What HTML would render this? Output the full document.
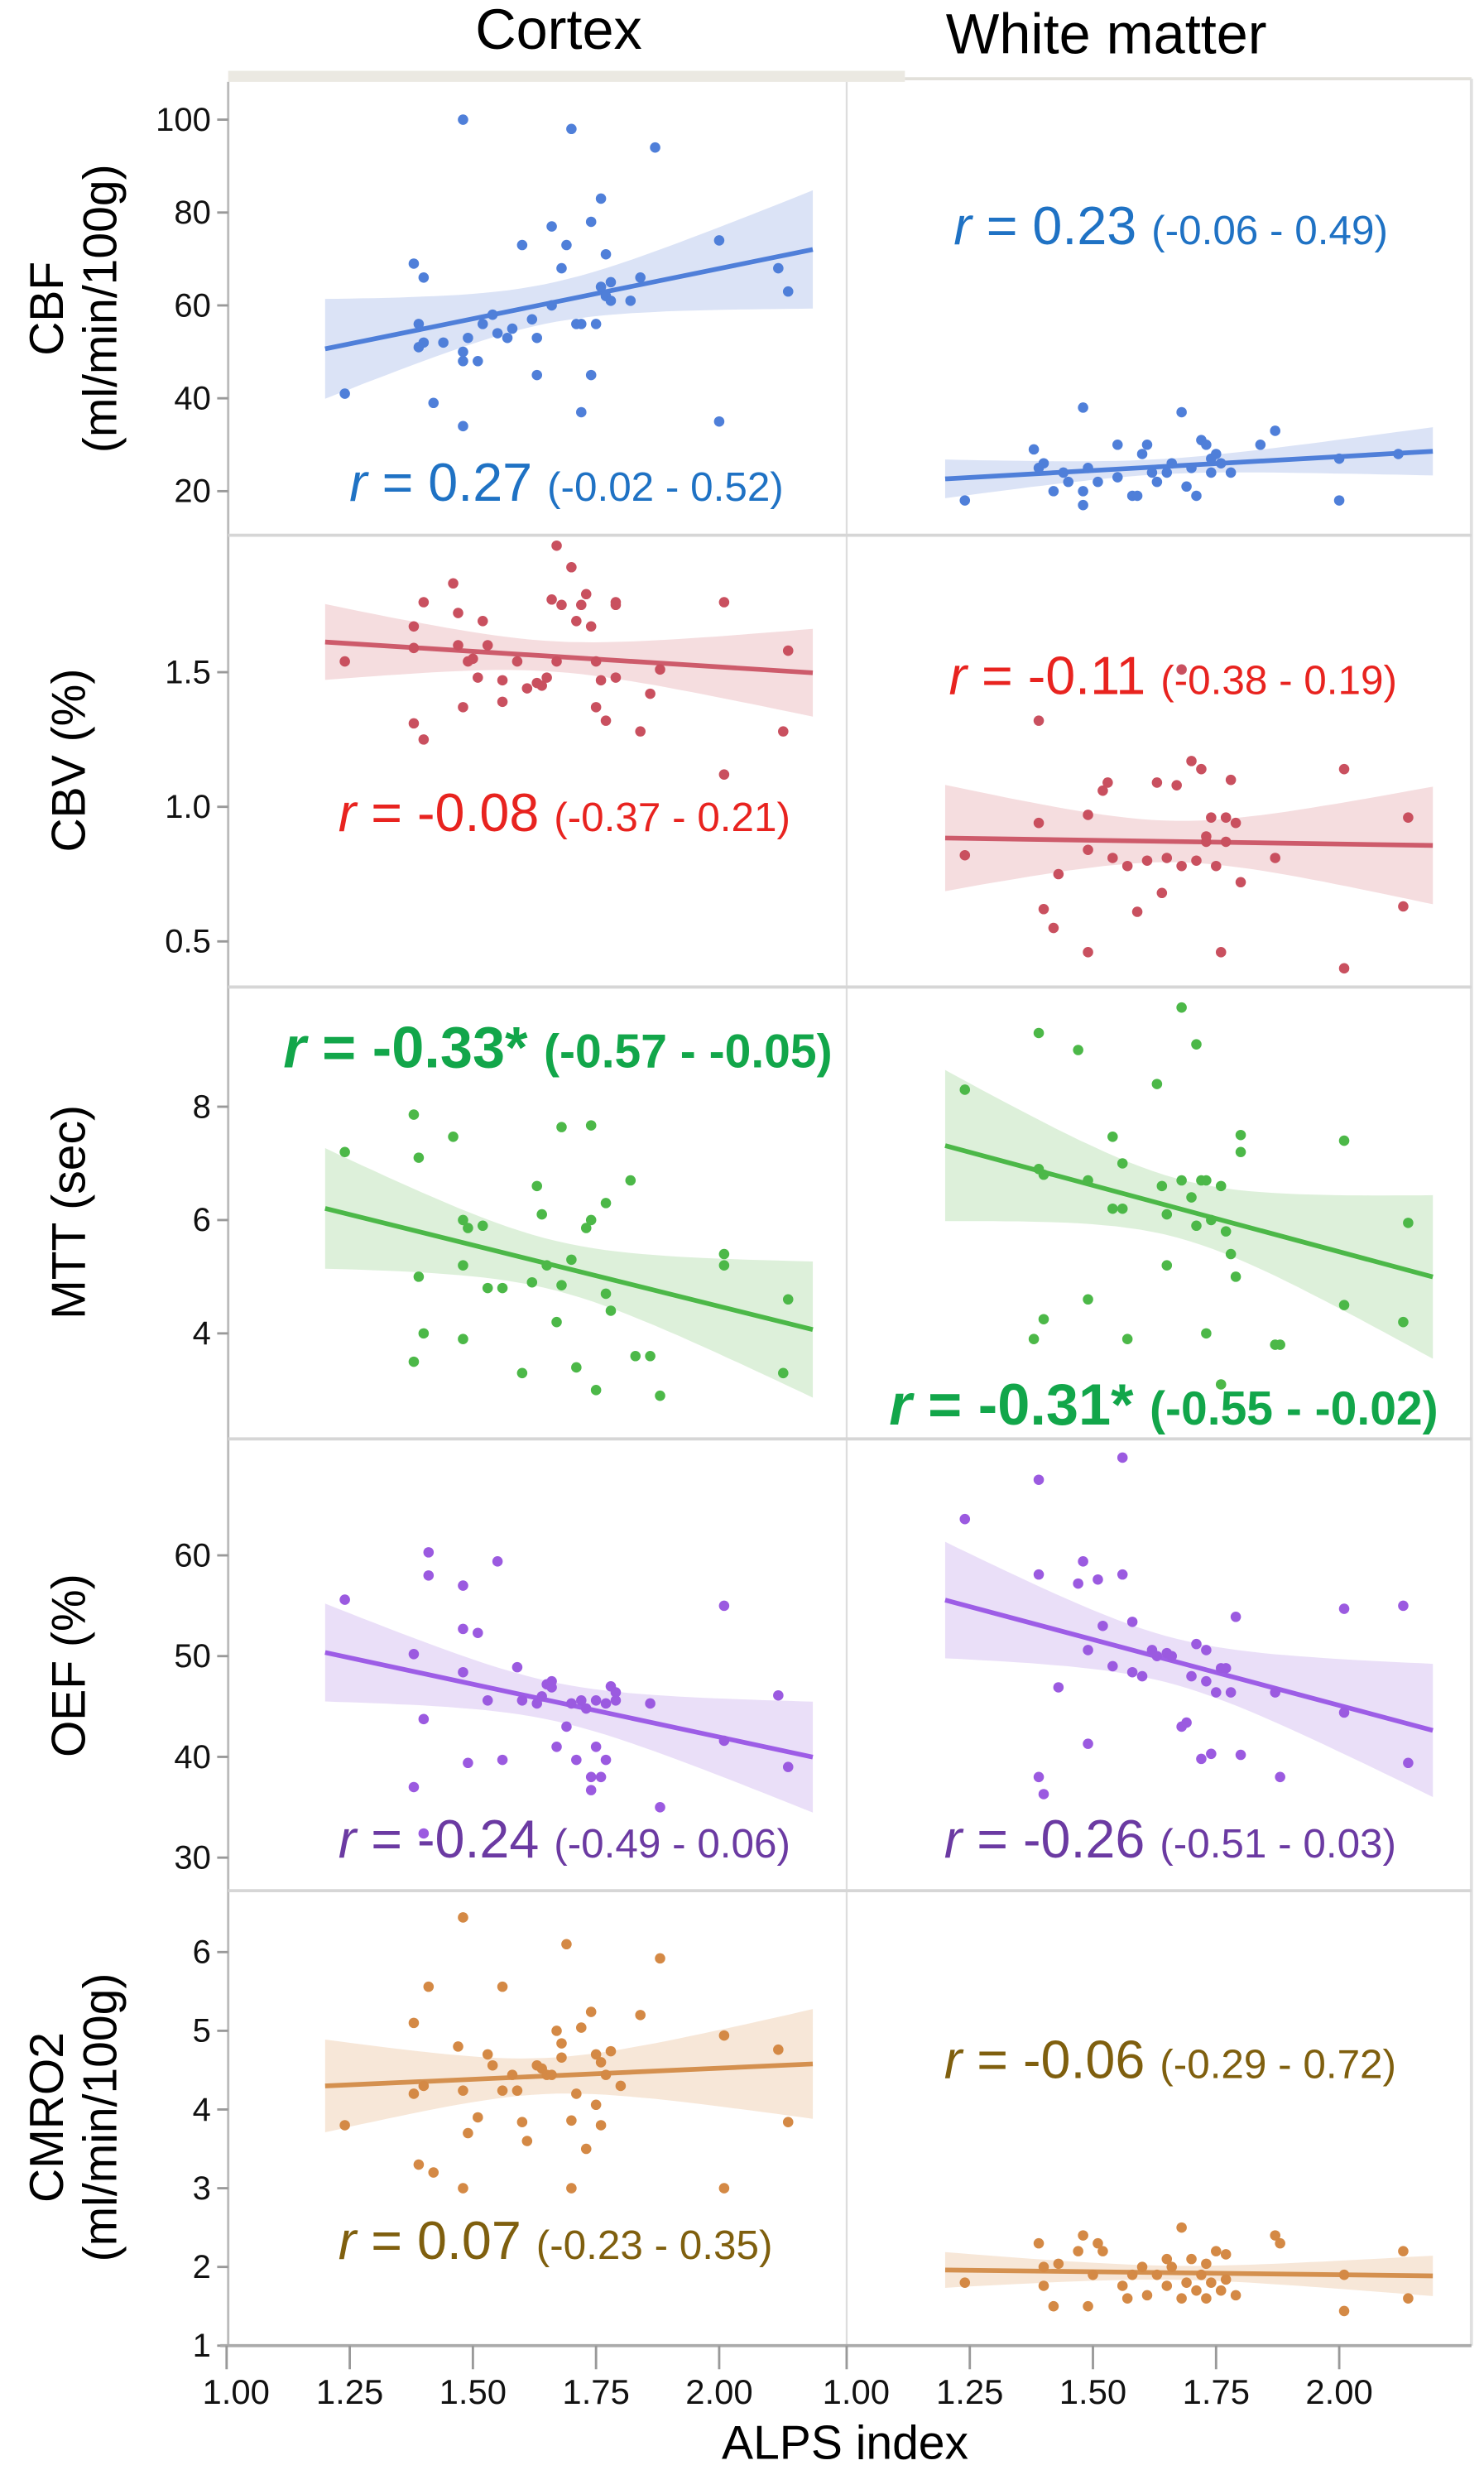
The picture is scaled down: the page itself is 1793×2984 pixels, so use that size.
<!DOCTYPE html>
<html><head><meta charset="utf-8"><style>
html,body{margin:0;padding:0;background:#fff}
svg{display:block}
text{font-family:"Liberation Sans",sans-serif}
</style></head><body>
<svg id="fig" width="1793" height="2984" viewBox="0 0 943 1569" preserveAspectRatio="none" xmlns="http://www.w3.org/2000/svg">
<rect x="0" y="0" width="943" height="1569" fill="#fff"/>
<text x="355" y="31" font-size="36" text-anchor="middle" fill="#000">Cortex</text>
<text x="703" y="34" font-size="36" text-anchor="middle" fill="#000">White matter</text>
<rect x="145" y="45" width="430" height="7" fill="#ebe9e2"/>
<line x1="575" y1="50" x2="935" y2="50" stroke="#e2e0da" stroke-width="2"/>
<line x1="935" y1="50" x2="935" y2="1490" stroke="#e0e0e0" stroke-width="2"/>
<line x1="145" y1="52" x2="145" y2="1490" stroke="#bbb" stroke-width="1.5"/>
<line x1="538" y1="52" x2="538" y2="1490" stroke="#ddd" stroke-width="1.2"/>
<g id="rows"></g>
<g id="marks"></g>
<line x1="140" y1="1490" x2="935" y2="1490" stroke="#aaa" stroke-width="2"/>
<g id="xaxis"></g>
<text x="537" y="1562" font-size="30" text-anchor="middle" fill="#000">ALPS index</text>
<text transform="translate(40,196) rotate(-90)" font-size="30" text-anchor="middle">CBF</text>
<text transform="translate(74,196) rotate(-90)" font-size="30" text-anchor="middle">(ml/min/100g)</text>
<text transform="translate(54,483) rotate(-90)" font-size="30" text-anchor="middle">CBV (%)</text>
<text transform="translate(54,770) rotate(-90)" font-size="30" text-anchor="middle">MTT (sec)</text>
<text transform="translate(54,1058) rotate(-90)" font-size="30" text-anchor="middle">OEF (%)</text>
<text transform="translate(40,1345) rotate(-90)" font-size="30" text-anchor="middle">CMRO2</text>
<text transform="translate(74,1345) rotate(-90)" font-size="30" text-anchor="middle">(ml/min/100g)</text>
<g id="rtexts"></g>
</svg>
<script>
const NS="http://www.w3.org/2000/svg";
// ---------- data ----------
const xTicks=[1.00,1.25,1.50,1.75,2.00];
const cbfTicks=[20,40,60,80,100];
const cbvTicks=[0.5,1.0,1.5];
const mttTicks=[4,6,8];
const oefTicks=[30,40,50,60];
const cmroTicks=[1,2,3,4,5,6];

const cbfCortexX=[1.24,1.38,1.40,1.39,1.39,1.40,1.42,1.44,1.48,1.48,1.48,1.48,1.49,1.51,1.52,1.54,1.55,1.57,1.58,1.60,1.62,1.63,1.63,1.66,1.66,1.68,1.69,1.70,1.71,1.72,1.72,1.74,1.74,1.75,1.76,1.76,1.77,1.77,1.78,1.78,1.82,1.84,1.87,2.00,2.00,2.12,2.14];
const cbfCortexY=[41,69,66,56,51,52,39,52,100,50,48,34,53,48,56,58,54,53,55,73,57,45,53,60,77,68,73,98,56,56,37,78,45,56,64,83,62,71,61,65,61,66,94,74,35,68,63];
const cbfWmX=[1.24,1.38,1.39,1.40,1.42,1.44,1.48,1.48,1.48,1.49,1.51,1.55,1.55,1.58,1.59,1.60,1.61,1.62,1.63,1.66,1.68,1.69,1.70,1.71,1.72,1.73,1.74,1.74,1.75,1.76,1.78,1.84,1.87,2.00,2.00,2.12,1.45,1.65];
const cbfWmY=[18,29,25,26,20,24,38,20,17,25,22,30,23,19,19,28,30,24,22,26,37,21,25,19,31,30,27,24,28,26,24,30,33,27,18,28,22,24];

const cbvCortexX=[1.24,1.38,1.38,1.38,1.40,1.40,1.46,1.47,1.47,1.48,1.49,1.50,1.51,1.52,1.53,1.56,1.56,1.59,1.61,1.63,1.64,1.65,1.66,1.67,1.67,1.68,1.70,1.71,1.72,1.73,1.74,1.75,1.75,1.76,1.77,1.79,1.79,1.79,1.84,1.86,1.88,2.01,2.01,2.13,2.14];
const cbvCortexY=[1.54,1.67,1.59,1.31,1.25,1.76,1.83,1.72,1.60,1.37,1.54,1.55,1.48,1.69,1.60,1.39,1.47,1.54,1.44,1.46,1.45,1.48,1.77,1.97,1.54,1.75,1.89,1.69,1.75,1.79,1.67,1.54,1.37,1.47,1.32,1.75,1.76,1.48,1.28,1.42,1.51,1.76,1.12,1.28,1.58];
const cbvWmX=[1.24,1.39,1.39,1.40,1.42,1.43,1.49,1.49,1.49,1.52,1.53,1.54,1.57,1.59,1.61,1.63,1.64,1.65,1.67,1.68,1.70,1.71,1.72,1.73,1.73,1.74,1.75,1.76,1.77,1.77,1.78,1.79,1.80,1.87,2.01,2.01,2.13,2.14,1.68];
const cbvWmY=[0.82,1.32,0.94,0.62,0.55,0.75,0.97,0.84,0.46,1.06,1.09,0.81,0.78,0.61,0.80,1.09,0.68,0.81,1.08,0.78,1.17,0.80,1.14,0.87,0.89,0.96,0.78,0.46,0.96,0.87,1.10,0.94,0.72,0.81,1.14,0.40,0.63,0.96,1.51];

const mttCortexX=[1.24,1.38,1.39,1.39,1.40,1.38,1.46,1.48,1.48,1.48,1.49,1.52,1.53,1.56,1.60,1.62,1.63,1.64,1.65,1.67,1.68,1.68,1.70,1.71,1.73,1.74,1.74,1.75,1.77,1.77,1.78,1.82,1.83,1.86,1.88,2.01,2.01,2.13,2.14];
const mttCortexY=[7.2,7.86,7.1,5.0,4.0,3.5,7.47,6.0,5.2,3.9,5.86,5.9,4.8,4.8,3.3,4.9,6.6,6.1,5.2,4.2,7.64,4.85,5.3,3.4,5.86,7.67,6.0,3.0,4.7,6.3,4.4,6.7,3.6,3.6,2.9,5.4,5.2,3.3,4.6];
const mttWmX=[1.24,1.39,1.39,1.40,1.40,1.38,1.47,1.49,1.49,1.54,1.54,1.56,1.56,1.57,1.63,1.64,1.65,1.65,1.68,1.68,1.70,1.71,1.72,1.73,1.74,1.76,1.76,1.77,1.78,1.79,1.80,1.80,1.87,1.88,2.01,2.01,2.13,2.14,1.73,1.71];
const mttWmY=[8.3,9.3,6.9,6.8,4.25,3.9,9.0,4.6,6.7,7.47,6.2,6.2,7.0,3.9,8.4,6.6,5.2,6.1,9.75,6.7,6.4,9.1,6.7,4.0,6.0,3.1,6.6,5.8,5.4,5.0,7.5,7.2,3.8,3.8,7.4,4.5,4.2,5.95,6.7,5.9];

const oefCortexX=[1.24,1.38,1.40,1.41,1.41,1.38,1.40,1.48,1.48,1.48,1.49,1.51,1.53,1.55,1.56,1.59,1.60,1.63,1.64,1.65,1.66,1.66,1.67,1.69,1.70,1.71,1.72,1.73,1.74,1.74,1.75,1.75,1.76,1.77,1.77,1.78,1.79,1.79,1.86,1.88,2.01,2.01,2.12,2.14];
const oefCortexY=[55.6,50.2,43.75,60.3,58,37,32.4,57,52.7,48.4,39.4,52.3,45.6,59.4,39.7,48.9,45.6,45.3,46,47.2,46.9,47.5,41,43,45.3,39.7,45.6,44.8,38,36.7,45.6,41,38,39.7,45.3,47,46.4,45.6,45.3,35,55,41.6,46.1,39];
const oefWmX=[1.24,1.39,1.39,1.39,1.40,1.43,1.47,1.48,1.49,1.49,1.51,1.52,1.54,1.56,1.56,1.58,1.58,1.60,1.62,1.63,1.65,1.66,1.68,1.69,1.70,1.71,1.72,1.73,1.73,1.74,1.75,1.76,1.77,1.78,1.79,1.80,1.87,1.88,2.01,2.01,2.13,2.14];
const oefWmY=[63.6,67.5,58.1,38,36.3,46.9,57.2,59.4,50.6,41.3,57.6,53,49,58.1,69.7,53.4,48.4,48,50.6,50,50.3,50,43,43.4,48,51.2,39.8,47.5,50.6,40.3,46.4,48.8,48.8,46.4,53.9,40.2,46.4,38,54.7,44.4,55,39.4];

const cmroCortexX=[1.24,1.38,1.38,1.39,1.40,1.41,1.42,1.47,1.48,1.48,1.48,1.49,1.51,1.53,1.54,1.56,1.56,1.58,1.59,1.60,1.61,1.63,1.64,1.65,1.66,1.67,1.68,1.68,1.69,1.70,1.70,1.71,1.72,1.73,1.74,1.75,1.75,1.76,1.76,1.77,1.78,1.80,1.84,1.88,2.01,2.01,2.12,2.14];
const cmroCortexY=[3.8,5.1,4.2,3.3,4.3,5.56,3.2,4.8,6.44,4.24,3.0,3.7,3.9,4.7,4.56,4.24,5.56,4.44,4.24,3.84,3.6,4.56,4.52,4.44,4.44,5.0,4.84,4.66,6.1,3.86,3.0,4.2,5.04,3.5,5.24,4.7,4.06,3.8,4.6,4.44,4.74,4.3,5.2,5.92,4.94,3.0,4.76,3.84];
const cmroWmX=[1.24,1.39,1.40,1.40,1.42,1.43,1.47,1.48,1.49,1.50,1.51,1.52,1.56,1.57,1.58,1.60,1.61,1.63,1.65,1.65,1.66,1.68,1.68,1.69,1.70,1.71,1.72,1.73,1.73,1.74,1.75,1.76,1.77,1.77,1.79,1.87,1.88,2.01,2.01,2.13,2.14];
const cmroWmY=[1.8,2.3,2.0,1.76,1.5,2.04,2.2,2.4,1.5,1.9,2.3,2.2,1.76,1.6,1.9,2.0,1.64,1.9,2.1,1.76,2.0,2.5,1.6,1.8,2.1,1.7,1.9,2.04,1.6,1.8,2.2,1.7,2.16,1.84,1.64,2.4,2.3,1.9,1.44,2.2,1.6];

const rValues=["0.27","0.23","-0.08","-0.11","-0.33*","-0.31*","-0.24","-0.26","0.07","-0.06"];
const ciLow=["-0.02","-0.06","-0.37","-0.38","-0.57","-0.55","-0.49","-0.51","-0.23","-0.29"];
const ciHigh=["0.52","0.49","0.21","0.19","-0.05","-0.02","0.06","0.03","0.35","0.72"];

// ---------- layout ----------
const rows=[
 {key:"cbf",top:52,bot:340,ref:100,refY:76,k:2.95,ticks:cbfTicks,fmt:v=>String(v),pt:"#4f7fd9",ln:"#4f7fd9",band:"#d7e0f5",tc:"#1f72c4",bold:false,data:[[cbfCortexX,cbfCortexY],[cbfWmX,cbfWmY]],rpos:[[222,318],[606,155]]},
 {key:"cbv",top:340,bot:627,ref:1.5,refY:427,k:171,ticks:cbvTicks,fmt:v=>v.toFixed(1),pt:"#c9505f",ln:"#cd5b6b",band:"#f4d9dc",tc:"#e8231f",bold:false,data:[[cbvCortexX,cbvCortexY],[cbvWmX,cbvWmY]],rpos:[[215,528],[603,441]]},
 {key:"mtt",top:627,bot:914,ref:8,refY:703,k:36,ticks:mttTicks,fmt:v=>String(v),pt:"#4cb848",ln:"#4cb848",band:"#d9eed6",tc:"#12a64a",bold:true,data:[[mttCortexX,mttCortexY],[mttWmX,mttWmY]],rpos:[[180,678],[565,905]]},
 {key:"oef",top:914,bot:1201,ref:60,refY:988,k:6.4,ticks:oefTicks,fmt:v=>String(v),pt:"#9b5ae0",ln:"#9d5de6",band:"#e8dcf7",tc:"#6b3aa2",bold:false,data:[[oefCortexX,oefCortexY],[oefWmX,oefWmY]],rpos:[[215,1180],[600,1180]]},
 {key:"cmro2",top:1201,bot:1490,ref:6,refY:1240,k:50,ticks:cmroTicks,fmt:v=>String(v),pt:"#d48945",ln:"#d4904f",band:"#f6e4d4",tc:"#7f5f0e",bold:false,data:[[cmroCortexX,cmroCortexY],[cmroWmX,cmroWmY]],rpos:[[215,1435],[600,1320]]}
];
const panelLeft=[144,538], xk=313;
const xPx=(p,v)=>panelLeft[p]+(v-1)*xk;

function el(tag,attrs,parent){const e=document.createElementNS(NS,tag);for(const a in attrs)e.setAttribute(a,attrs[a]);parent.appendChild(e);return e;}
const gRows=document.getElementById('rows'),gMarks=document.getElementById('marks'),gX=document.getElementById('xaxis'),gR=document.getElementById('rtexts');

rows.forEach((r,ri)=>{
  const yPx=v=>r.refY+(r.ref-v)*r.k;
  if(ri>0){const sep=el('line',{x1:145,x2:935,y1:r.top,y2:r.top,stroke:'#d6d6d6','stroke-width':2},gRows);
    
    }
  r.ticks.forEach(t=>{
    const tk=el('line',{x1:138,x2:145,y1:yPx(t),y2:yPx(t),stroke:'#999','stroke-width':1.5},gRows);
    
    
    const tl=el('text',{x:134,y:yPx(t)+7,'font-size':21,'text-anchor':'end',fill:'#111'},gRows);
    tl.textContent=r.fmt(t);
    
    
  });
  r.data.forEach((d,p)=>{
    const xs=d[0],ys=d[1],n=Math.min(xs.length,ys.length);
    let mx=0,my=0;for(let i=0;i<n;i++){mx+=xs[i];my+=ys[i];}mx/=n;my/=n;
    let sxx=0,sxy=0;for(let i=0;i<n;i++){sxx+=(xs[i]-mx)**2;sxy+=(xs[i]-mx)*(ys[i]-my);}
    const b=sxy/sxx,a=my-b*mx;
    let sse=0;for(let i=0;i<n;i++){sse+=(ys[i]-a-b*xs[i])**2;}
    const s=Math.sqrt(sse/(n-2)),t=2.02;
    const x0=1.2,x1=2.19,steps=40,up=[],lo=[];
    for(let j=0;j<=steps;j++){const x=x0+(x1-x0)*j/steps;const se=s*Math.sqrt(1/n+(x-mx)**2/sxx);const yh=a+b*x;
      up.push(xPx(p,x).toFixed(1)+','+yPx(yh+t*se).toFixed(1));lo.unshift(xPx(p,x).toFixed(1)+','+yPx(yh-t*se).toFixed(1));}
    const band=el('polygon',{points:up.concat(lo).join(' '),fill:r.band,opacity:0.9},gMarks);
    
    
    const ln=el('line',{x1:xPx(p,x0),y1:yPx(a+b*x0),x2:xPx(p,x1),y2:yPx(a+b*x1),stroke:r.ln,'stroke-width':3},gMarks);
    
    
    for(let i=0;i<n;i++){
      const c=el('circle',{cx:xPx(p,xs[i]),cy:yPx(ys[i]),r:3.3,fill:r.pt},gMarks);
      
      
    }
    const idx=ri*2+p;
    const tx=el('text',{x:r.rpos[p][0],y:r.rpos[p][1],fill:r.tc,'font-weight':r.bold?'bold':'normal'},gR);
    
    
    const t1=el('tspan',{'font-size':r.bold?37:34,'font-style':'italic'},tx);t1.textContent='r';
    const t2=el('tspan',{'font-size':r.bold?37:34},tx);t2.textContent=' = '+rValues[idx]+' ';
    const t3=el('tspan',{'font-size':r.bold?30:26},tx);t3.textContent='('+ciLow[idx]+' - '+ciHigh[idx]+')';
  });
});
[0,1].forEach(p=>{
  xTicks.forEach(t=>{
    const tk=el('line',{x1:xPx(p,t),x2:xPx(p,t),y1:1490,y2:1505,stroke:'#999','stroke-width':1.5},gX);
    
    
    const tl=el('text',{x:xPx(p,t)+(t===1?6:0),y:1527,'font-size':22,'text-anchor':'middle',fill:'#111'},gX);
    tl.textContent=t.toFixed(2);
    
    
  });
});
</script>
</body></html>
